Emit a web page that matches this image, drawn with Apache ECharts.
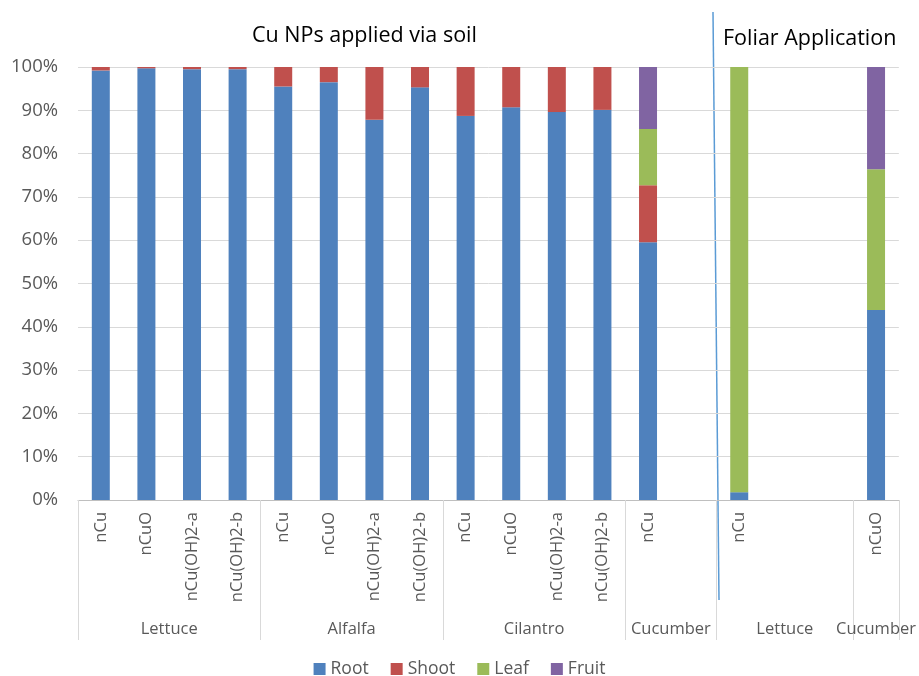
<!DOCTYPE html>
<html>
<head>
<meta charset="utf-8">
<script src="https://cdn.jsdelivr.net/npm/echarts@6/dist/echarts.min.js"></script>
<style>
  html, body { margin: 0; padding: 0; background: #fff; }
  #main { width: 919px; height: 676px; }
</style>
</head>
<body>
<div id="main"></div>
<script>
// sub-level labels, one per slot (empty slots keep spacing like in Excel)
var treatments = ['nCu', 'nCuO', 'nCu(OH)2-a', 'nCu(OH)2-b',
  'nCu', 'nCuO', 'nCu(OH)2-a', 'nCu(OH)2-b',
  'nCu', 'nCuO', 'nCu(OH)2-a', 'nCu(OH)2-b',
  'nCu', '',
  'nCu', '', '',
  'nCuO']

// group labels: name and number of slots
var groupNames = ['Lettuce', 'Alfalfa', 'Cilantro', 'Cucumber', 'Lettuce', 'Cucumber']
var groupSizes = [4, 4, 4, 2, 3, 1]

// percentages per slot
var rootData = [99.2, 99.7, 99.5, 99.5, 95.5, 96.5, 87.8, 95.3, 88.7, 90.7, 89.6, 90.1, 59.5, null, 1.8, null, null, 43.9]
var shootData = [0.8, 0.3, 0.5, 0.5, 4.5, 3.5, 12.2, 4.7, 11.3, 9.3, 10.4, 9.9, 13.2, null, 0, null, null, 0]
var leafData = [0, 0, 0, 0, 0, 0, 0, 0, 0, 0, 0, 0, 13.0, null, 98.2, null, null, 32.5]
var fruitData = [0, 0, 0, 0, 0, 0, 0, 0, 0, 0, 0, 0, 14.3, null, 0, null, null, 23.6]

var yTicks = [0, 10, 20, 30, 40, 50, 60, 70, 80, 90, 100]

// second axis with half-slot positions (boundaryGap false): 2 points per slot
var halfCount = treatments.length * 2 + 1
var groupAxisData = []
var groupTickIdx = {}
var groupLabelIdx = {}
for (var i = 0; i < halfCount; i++) groupAxisData.push('')
var pos = 0
groupTickIdx[0] = true
for (var g = 0; g < groupNames.length; g++) {
  var center = pos * 2 + groupSizes[g]
  groupAxisData[center] = groupNames[g]
  groupLabelIdx[center] = true
  pos += groupSizes[g]
  groupTickIdx[pos * 2] = true
}

var fontFam = '"Open Sans", "Noto Sans", sans-serif'

function makeSeries (name, data) {
  return {
    name: name,
    type: 'bar',
    stack: 'total',
    barWidth: 18,
    data: data
  }
}

var myChart = echarts.init(document.getElementById('main'))
myChart.setOption({
  animation: false,
  color: ['#4f81bd', '#c0504d', '#9bbb59', '#8064a2'],
  textStyle: { fontFamily: fontFam },
  title: [{
    text: 'Cu NPs applied via soil',
    left: 247,
    top: 20,
    textStyle: { fontSize: 21.5, fontWeight: 'normal', color: '#000', fontFamily: fontFam }
  }, {
    text: 'Foliar Application',
    left: 718,
    top: 23,
    textStyle: { fontSize: 21.5, fontWeight: 'normal', color: '#000', fontFamily: fontFam }
  }],
  legend: {
    bottom: -7,
    left: 'center',
    icon: 'rect',
    itemWidth: 12,
    itemHeight: 12,
    itemGap: 22,
    textStyle: { fontSize: 17.5, color: '#595959', fontFamily: fontFam },
    data: ['Root', 'Shoot', 'Leaf', 'Fruit']
  },
  grid: {
    left: 78,
    right: 17,
    top: 67,
    bottom: 176
  },
  xAxis: [{
    type: 'category',
    data: treatments,
    position: 'bottom',
    axisLine: { lineStyle: { color: '#bfbfbf' } },
    axisTick: { show: false },
    axisLabel: {
      interval: 0,
      rotate: 90,
      margin: 12,
      fontSize: 16.5,
      color: '#595959',
      fontFamily: fontFam
    }
  }, {
    type: 'category',
    data: groupAxisData,
    boundaryGap: false,
    position: 'bottom',
    axisLine: { show: false },
    axisTick: {
      show: true,
      length: 140,
      interval: function (idx) { return !!groupTickIdx[idx] },
      lineStyle: { color: '#d9d9d9' }
    },
    axisLabel: {
      interval: function (idx) { return !!groupLabelIdx[idx] },
      margin: 121,
      fontSize: 16.5,
      color: '#595959',
      fontFamily: fontFam
    }
  }],
  yAxis: {
    type: 'value',
    min: yTicks[0],
    max: yTicks[yTicks.length - 1],
    interval: 10,
    axisLine: { show: false },
    axisTick: { show: false },
    splitLine: { lineStyle: { color: '#d9d9d9' } },
    axisLabel: {
      formatter: '{value}%',
      fontSize: 18.5,
      color: '#595959',
      margin: 20,
      fontFamily: fontFam
    }
  },
  graphic: [{
    type: 'line',
    shape: { x1: 713, y1: 12, x2: 719, y2: 600 },
    style: { stroke: '#5b9bd5', lineWidth: 1.5 }
  }],
  series: [
    makeSeries('Root', rootData),
    makeSeries('Shoot', shootData),
    makeSeries('Leaf', leafData),
    makeSeries('Fruit', fruitData)
  ]
})
</script>
</body>
</html>
